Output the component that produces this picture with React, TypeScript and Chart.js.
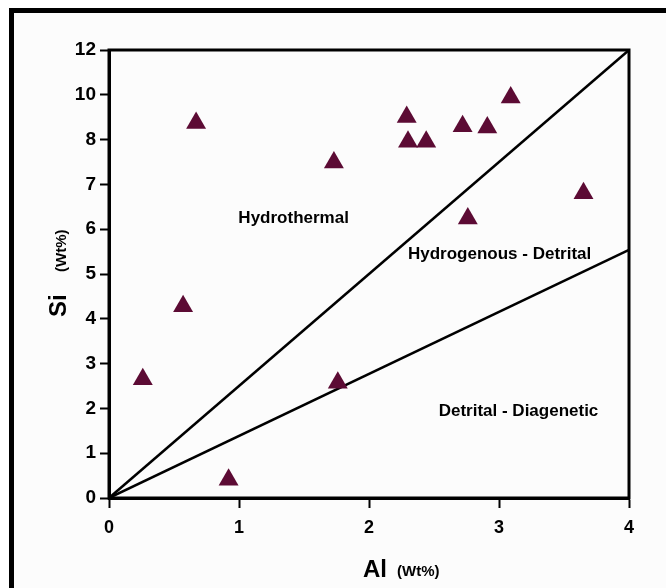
import React, { useEffect, useRef } from "react";
import { Chart, registerables } from "chart.js";

Chart.register(...registerables);

// Al (Wt%) and Si (Wt%) values of the samples
const AL_VALUES = [0.26, 0.57, 0.67, 0.92, 1.73, 1.76, 2.29, 2.3, 2.44, 2.72, 2.91, 3.09, 2.76, 3.65];
const SI_VALUES = [2.65, 4.28, 8.74, 0.41, 7.49, 2.57, 9.01, 7.95, 7.95, 8.6, 8.54, 9.88, 6.24, 6.8];

// Y tick labels (axis spaced evenly, labels jump above 8)
const Y_TICK_LABELS = ["0", "1", "2", "3", "4", "5", "6", "7", "8", "10", "12"];
const X_TICKS = [0, 1, 2, 3, 4];

// Boundary lines: [Al, Si] end points
const LINE_HYDRO = [[0, 0], [4, 12]];
const LINE_DETR = [[0, 0], [4, 5.54]];

// Region labels: text, Al, Si
const REGION_TEXT = ["Hydrothermal", "Hydrogenous - Detrital", "Detrital - Diagenetic"];
const REGION_AL = [0.995, 2.3, 2.536];
const REGION_SI = [6.14, 5.34, 1.84];

const FONT = "'Liberation Sans', Arial, Helvetica, sans-serif";
const MARK = "#5c0b34";

function siToAxis(v: number): number {
  return v <= 8 ? v : 8 + (v - 8) / 2;
}

const overlayPlugin = {
  id: "overlay",
  afterDatasetsDraw(chart: any) {
    const { ctx, chartArea, scales } = chart;
    ctx.save();
    // plot box
    ctx.strokeStyle = "#000";
    ctx.lineWidth = 3;
    ctx.strokeRect(chartArea.left, chartArea.top, chartArea.right - chartArea.left, chartArea.bottom - chartArea.top);
    // region labels
    ctx.fillStyle = "#000";
    ctx.font = `bold 17px ${FONT}`;
    ctx.textAlign = "left";
    ctx.textBaseline = "alphabetic";
    REGION_TEXT.forEach((t, i) => {
      ctx.fillText(t, scales.x.getPixelForValue(REGION_AL[i]), scales.y.getPixelForValue(siToAxis(REGION_SI[i])));
    });
    // x title
    ctx.font = `bold 24px ${FONT}`;
    ctx.fillText("Al", 363, 577);
    ctx.font = `bold 15px ${FONT}`;
    ctx.fillText("(Wt%)", 397, 576);
    // y title
    ctx.translate(66, 317);
    ctx.rotate(-Math.PI / 2);
    ctx.font = `bold 24px ${FONT}`;
    ctx.fillText("Si", 0, 0);
    ctx.font = `bold 15px ${FONT}`;
    ctx.fillText("(Wt%)", 45, 0);
    ctx.restore();
  },
};

export default function App() {
  const ref = useRef<HTMLCanvasElement>(null);

  useEffect(() => {
    if (!ref.current) return;
    const points = AL_VALUES.map((a, i) => ({ x: a, y: siToAxis(SI_VALUES[i]) }));
    const toPts = (l: number[][]) => l.map(([a, s]) => ({ x: a, y: siToAxis(s) }));
    const chart = new Chart(ref.current, {
      type: "scatter",
      data: {
        datasets: [
          {
            data: points,
            pointStyle: "triangle",
            pointRadius: 11.5,
            backgroundColor: MARK,
            borderColor: MARK,
            borderWidth: 0,
          } as any,
          {
            type: "line",
            data: toPts(LINE_HYDRO),
            borderColor: "#000",
            borderWidth: 2.5,
            pointRadius: 0,
            showLine: true,
            fill: false,
          } as any,
          {
            type: "line",
            data: toPts(LINE_DETR),
            borderColor: "#000",
            borderWidth: 2.5,
            pointRadius: 0,
            showLine: true,
            fill: false,
          } as any,
        ],
      },
      options: {
        responsive: false,
        animation: false,
        layout: { padding: { top: 50, right: 37, left: 0, bottom: 0 } },
        plugins: { legend: { display: false }, tooltip: { enabled: false } },
        scales: {
          x: {
            type: "linear",
            min: 0,
            max: 4,
            afterFit: (s: any) => {
              s.height = 90;
            },
            afterBuildTicks: (s: any) => {
              s.ticks = X_TICKS.map((v) => ({ value: v }));
            },
            ticks: {
              color: "#000",
              font: { family: FONT, size: 18, weight: "bold" },
              padding: 9,
              callback: (v: any) => String(v),
            },
            grid: { display: true, drawOnChartArea: false, drawTicks: true, tickLength: 10, tickWidth: 2, tickColor: "#000" },
            border: { display: true, width: 3, color: "#000" },
          },
          y: {
            type: "linear",
            min: 0,
            max: 10,
            afterFit: (s: any) => {
              s.width = 109;
            },
            afterBuildTicks: (s: any) => {
              s.ticks = Y_TICK_LABELS.map((_, i) => ({ value: i }));
            },
            ticks: {
              color: "#000",
              font: { family: FONT, size: 19, weight: "bold" },
              padding: 4,
              callback: (v: any) => Y_TICK_LABELS[v],
            },
            grid: { display: true, drawOnChartArea: false, drawTicks: true, tickLength: 9, tickWidth: 2, tickColor: "#000" },
            border: { display: true, width: 3, color: "#000" },
          },
        },
      },
      plugins: [overlayPlugin],
    } as any);
    return () => chart.destroy();
  }, []);

  return (
    <div style={{ position: "fixed", left: 0, top: 0, width: 666, height: 588, background: "#fff", overflow: "hidden" }}>
      <div
        style={{
          position: "absolute",
          left: 9,
          top: 8,
          width: 700,
          height: 620,
          borderLeft: "5px solid #000",
          borderTop: "5px solid #000",
          background: "#fcfcfc",
        }}
      />
      <canvas ref={ref} width={666} height={588} style={{ position: "absolute", left: 0, top: 0, width: 666, height: 588 }} />
    </div>
  );
}
